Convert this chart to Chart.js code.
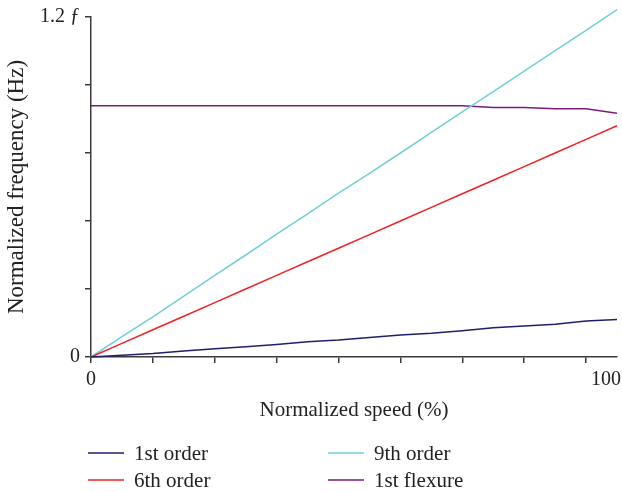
<!DOCTYPE html>
<html>
<head>
<meta charset="utf-8">
<script src="https://cdn.jsdelivr.net/npm/chart.js@4"></script>
<style>
  html, body { margin: 0; padding: 0; background: #fff; }
  #wrap { width: 622px; height: 492px; }
</style>
</head>
<body>
<div id="wrap"><canvas id="freqChart" width="622" height="492"></canvas></div>
<script>
// normalized speed (%) of each sample
const speed = [0, 6.25, 12.5, 18.75, 25, 31.25, 37.5, 43.75, 50, 56.25, 62.5, 68.75, 75, 81.25, 87.5, 93.75, 100, 106.25];

const firstOrder = [0, 0.006, 0.012, 0.021, 0.029, 0.036, 0.044, 0.054, 0.060, 0.069, 0.078, 0.084, 0.093, 0.103, 0.109, 0.116, 0.127, 0.132];
const sixthOrder = [0, 0.048, 0.096, 0.144, 0.192, 0.240, 0.288, 0.336, 0.384, 0.432, 0.480, 0.528, 0.576, 0.624, 0.672, 0.720, 0.768, 0.816];
const ninthOrder = [0, 0.072, 0.142, 0.215, 0.288, 0.360, 0.434, 0.505, 0.578, 0.648, 0.720, 0.793, 0.865, 0.937, 1.009, 1.081, 1.153, 1.226];
const firstFlexure = [0.887, 0.887, 0.887, 0.887, 0.887, 0.887, 0.887, 0.887, 0.887, 0.887, 0.887, 0.887, 0.887, 0.881, 0.881, 0.876, 0.876, 0.860];

const xTicks = [0, 12.5, 25, 37.5, 50, 62.5, 75, 87.5, 100];
const xLabels = { 0: '0', 100: '        100' };
const yTicks = [0, 0.24, 0.48, 0.72, 0.96, 1.2];
const yLabels = { 0: '0', 1.2: '1.2 ƒ' };

const seriesNames = ['1st order', '6th order', '9th order', '1st flexure'];
const seriesColors = ['#1f1f6b', '#ee2222', '#6fcfdc', '#7a1c7e'];
const seriesValues = [firstOrder, sixthOrder, ninthOrder, firstFlexure];

const serif = "'Liberation Serif', 'DejaVu Serif', serif";
const axisColor = '#3a3a3a';

// legend drawn as two columns under the axis title
const columnLegend = {
  id: 'columnLegend',
  afterDraw(chart) {
    const ctx = chart.ctx;
    const slots = [[88, 453], [88, 480], [328, 453], [328, 480]];
    ctx.save();
    ctx.font = '21px ' + serif;
    ctx.textBaseline = 'middle';
    chart.data.datasets.forEach((ds, i) => {
      const [x, y] = slots[i];
      ctx.strokeStyle = ds.borderColor;
      ctx.lineWidth = 1.5;
      ctx.beginPath();
      ctx.moveTo(x, y);
      ctx.lineTo(x + 36, y);
      ctx.stroke();
      ctx.fillStyle = '#222';
      ctx.fillText(ds.label, x + 46, y + 1);
    });
    ctx.restore();
  }
};

new Chart(document.getElementById('freqChart'), {
  type: 'line',
  data: {
    datasets: seriesNames.map((name, i) => ({
      label: name,
      data: speed.map((s, j) => ({ x: s, y: seriesValues[i][j] })),
      borderColor: seriesColors[i],
      backgroundColor: seriesColors[i],
      borderWidth: 1.5,
      pointRadius: 0,
      tension: 0,
      clip: false,
    })),
  },
  options: {
    responsive: false,
    animation: false,
    layout: { padding: { top: 15, right: 5, bottom: 65, left: 0 } },
    plugins: {
      legend: { display: false },
      tooltip: { enabled: false },
    },
    scales: {
      x: {
        type: 'linear',
        min: 0,
        max: 106.25,
        afterBuildTicks: axis => { axis.ticks = xTicks.map(v => ({ value: v })); },
        afterFit: axis => { axis.height = 70; axis.paddingRight = 0; axis.paddingLeft = 0; },
        border: { color: axisColor, width: 1.5 },
        grid: { drawOnChartArea: false, drawTicks: true, tickLength: 6, color: axisColor, lineWidth: 1.5 },
        ticks: {
          autoSkip: false,
          maxRotation: 0,
          padding: 5,
          color: '#222',
          font: { family: serif, size: 20 },
          callback: v => xLabels[v] || '',
        },
        title: {
          display: true,
          text: 'Normalized speed (%)',
          color: '#222',
          font: { family: serif, size: 21 },
          padding: { top: 0, bottom: 4 },
        },
      },
      y: {
        min: 0,
        max: 1.2,
        afterBuildTicks: axis => { axis.ticks = yTicks.map(v => ({ value: v })); },
        afterFit: axis => { axis.width = 91; },
        border: { color: axisColor, width: 1.5 },
        grid: { drawOnChartArea: false, drawTicks: true, tickLength: 6, color: axisColor, lineWidth: 1.5 },
        ticks: {
          autoSkip: false,
          padding: 5,
          color: '#222',
          font: { family: serif, size: 20 },
          callback: v => yLabels[Math.round(v * 100) / 100] || '',
        },
        title: {
          display: true,
          text: 'Normalized frequency (Hz)',
          color: '#222',
          font: { family: serif, size: 23 },
          padding: { top: 3, bottom: 0 },
        },
      },
    },
  },
  plugins: [columnLegend],
});
</script>
</body>
</html>
